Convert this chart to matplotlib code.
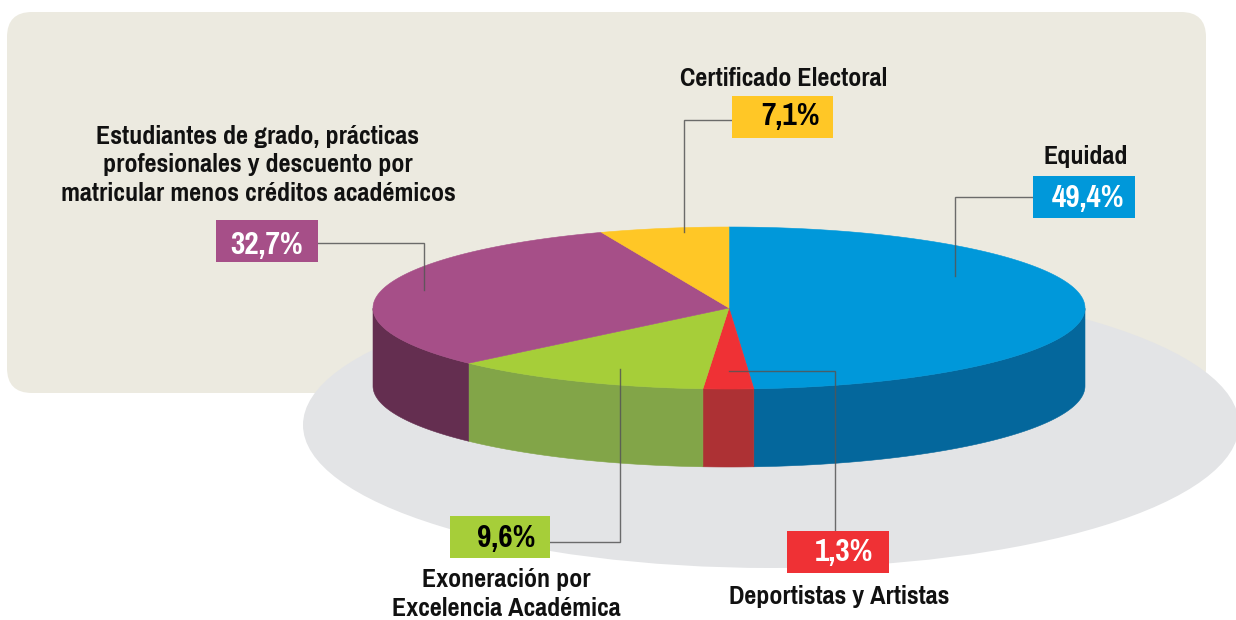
#!/usr/bin/env python3
# -*- coding: utf-8 -*-
"""Torta 3D de descuentos sobre la matricula"""

import numpy as np
import matplotlib
matplotlib.use('Agg')
import matplotlib.pyplot as plt
from matplotlib import font_manager as fm
from matplotlib.patches import FancyBboxPatch, Ellipse, Rectangle

# Fuente angosta si esta disponible, si no Liberation Sans mas chica
installed = {f.name for f in fm.fontManager.ttflist}
if 'Pragati Narrow' in installed:
    plt.rcParams['font.family'] = ['Pragati Narrow', 'DejaVu Sans']
    name_size, pct_size = 20.4, 24.5
else:
    plt.rcParams['font.family'] = ['Liberation Sans', 'DejaVu Sans']
    name_size, pct_size = 15.5, 18.5

# Datos
names = ['Equidad', 'Deportistas y Artistas', 'Exoneración por\nExcelencia Académica',
         'Estudiantes de grado, prácticas\nprofesionales y descuento por\nmatricular menos créditos académicos',
         'Certificado Electoral']
percents = [49.4, 1.3, 9.6, 32.7, 7.1]
# Apertura real de cada porcion en la figura (grados, no coincide con los %)
sweep_deg = [176, 8.2, 42.8, 112, 21]

top_colors = ['#0098DA', '#EF3135', '#A6CE39', '#A64F88', '#FFC726']
side_colors = ['#04679C', '#AD3134', '#82A548', '#642E50', '#B08A1C']
text_colors = ['white', 'white', 'black', 'white', 'black']

# Geometria de la torta (pixeles)
cx, cy = 729, 308
rx, ry = 356, 81
depth = 78

fig = plt.figure(figsize=(12.36, 6.2), dpi=100, facecolor='white')
ax = fig.add_axes([0, 0, 1, 1])
ax.set_xlim(0, 1236)
ax.set_ylim(620, 0)
ax.axis('off')

# Fondo
ax.add_patch(FancyBboxPatch((7 + 25, 12 + 25), 1199 - 50, 381 - 50,
                            boxstyle='round,pad=25,rounding_size=25',
                            fc='#ECEAE0', ec='none', zorder=1))
ax.add_patch(Ellipse((771, 425), 936, 286, fc='#E3E4E6', ec='none', zorder=2))


def ell(deg):
    t = np.radians(deg)
    return cx + rx * np.cos(t), cy - ry * np.sin(t)


# Porciones, en sentido horario desde arriba
start = 90.0
for i, sweep in enumerate(sweep_deg):
    end = start - sweep
    t = np.linspace(start, end, 200)
    x, y = ell(t)
    ax.fill(np.r_[cx, x], np.r_[cy, y], color=top_colors[i], lw=0.4, zorder=5)
    # Costado: solo la parte de adelante de la elipse (180 a 360 grados)
    a = np.mod(t, 360)
    front = (a >= 180) & (a <= 360)
    if front.any():
        xf, yf = x[front], y[front]
        ax.fill(np.r_[xf, xf[::-1]], np.r_[yf, yf[::-1] + depth],
                color=side_colors[i], lw=0.4, zorder=4)
    start = end

# Cajas, lineas y textos (en orden de names)
boxes = [(1033, 176, 102, 42), (787, 531, 102, 42), (450, 516, 100, 42),
         (216, 220, 102, 42), (732, 96, 101, 42)]
leaders = [([1033, 955, 955], [197, 197, 276]),
           ([835, 835, 729], [531, 371, 371]),
           ([550, 620, 620], [542, 542, 369]),
           ([318, 424, 424], [243, 243, 290]),
           ([732, 684, 684], [120, 120, 232])]
name_pos = [(1086, 157), (839, 597), (506, 594), (258, 165), (784, 78)]
pct_pos = [(1088, 198), (844, 552), (506, 538), (267, 245), (791, 116)]

for i in range(len(names)):
    x0, y0, w, h = boxes[i]
    ax.add_patch(Rectangle((x0, y0), w, h, fc=top_colors[i], ec='none', zorder=7))
    ax.plot(leaders[i][0], leaders[i][1], color='#555555', lw=1.0, alpha=0.85,
            solid_joinstyle='miter', zorder=6)
    ax.text(pct_pos[i][0], pct_pos[i][1], f'{percents[i]:.1f}%'.replace('.', ','),
            color=text_colors[i], fontsize=pct_size, fontweight='bold',
            ha='center', va='center', zorder=8)
    ax.text(name_pos[i][0], name_pos[i][1], names[i], color='#111111', fontsize=name_size,
            fontweight='bold', ha='center', va='center', linespacing=1.3, zorder=8)

fig.savefig('out.png', dpi=100)
